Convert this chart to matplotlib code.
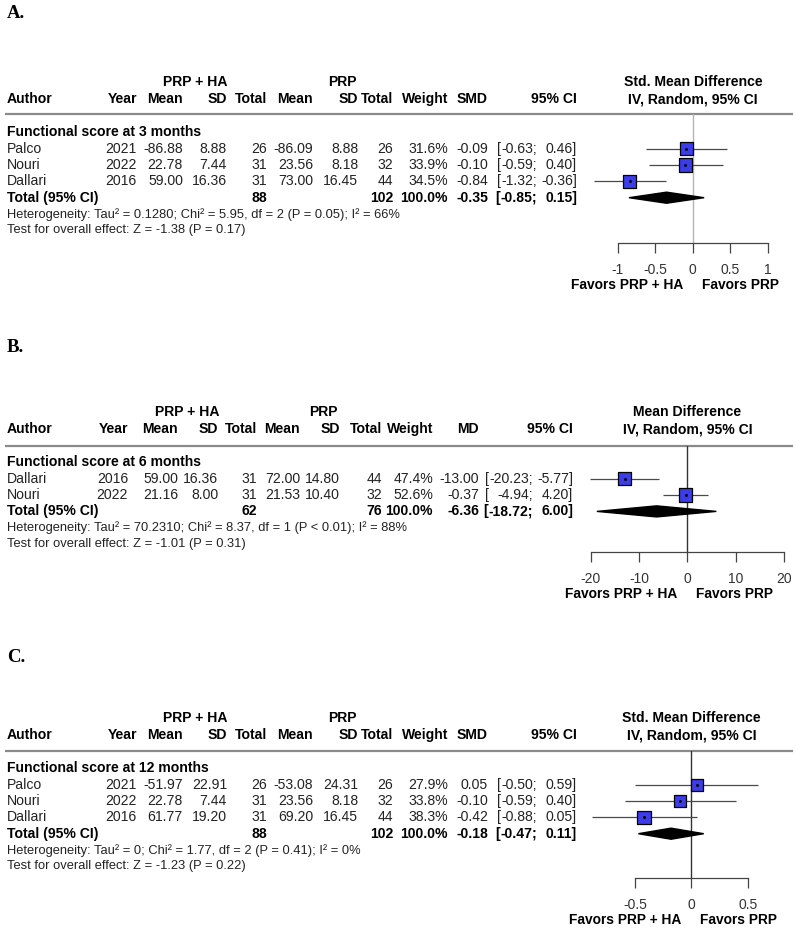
import numpy as np
import matplotlib
matplotlib.use('Agg')
import matplotlib.pyplot as plt
from matplotlib.transforms import blended_transform_factory

plt.rcParams['font.family'] = ['Liberation Sans', 'DejaVu Sans']
plt.rcParams['axes.unicode_minus'] = False

# ---- Panel A: functional score at 3 months (SMD) ----
authors_a = ['Palco', 'Nouri', 'Dallari']
years_a = [2021, 2022, 2016]
mean_e_a = [-86.88, 22.78, 59.00]
sd_e_a = [8.88, 7.44, 16.36]
n_e_a = [26, 31, 31]
mean_c_a = [-86.09, 23.56, 73.00]
sd_c_a = [8.88, 8.18, 16.45]
n_c_a = [26, 32, 44]
weight_a = [31.6, 33.9, 34.5]
eff_a = [-0.09, -0.10, -0.84]
lo_a = [-0.63, -0.59, -1.32]
hi_a = [0.46, 0.40, -0.36]
pooled_a = [-0.35, -0.85, 0.15]
totals_a = [88, 102]
het_a = 'Heterogeneity: Tau² = 0.1280; Chi² = 5.95, df = 2 (P = 0.05); I² = 66%'
test_a = 'Test for overall effect: Z = -1.38 (P = 0.17)'
ticks_a = [-1, -0.5, 0, 0.5, 1]
ticklabels_a = ['-1', '-0.5', '0', '0.5', '1']

# ---- Panel B: functional score at 6 months (MD) ----
authors_b = ['Dallari', 'Nouri']
years_b = [2016, 2022]
mean_e_b = [59.00, 21.16]
sd_e_b = [16.36, 8.00]
n_e_b = [31, 31]
mean_c_b = [72.00, 21.53]
sd_c_b = [14.80, 10.40]
n_c_b = [44, 32]
weight_b = [47.4, 52.6]
eff_b = [-13.00, -0.37]
lo_b = [-20.23, -4.94]
hi_b = [-5.77, 4.20]
pooled_b = [-6.36, -18.72, 6.00]
totals_b = [62, 76]
het_b = 'Heterogeneity: Tau² = 70.2310; Chi² = 8.37, df = 1 (P < 0.01); I² = 88%'
test_b = 'Test for overall effect: Z = -1.01 (P = 0.31)'
ticks_b = [-20, -10, 0, 10, 20]
ticklabels_b = ['-20', '-10', '0', '10', '20']

# ---- Panel C: functional score at 12 months (SMD) ----
authors_c = ['Palco', 'Nouri', 'Dallari']
years_c = [2021, 2022, 2016]
mean_e_c = [-51.97, 22.78, 61.77]
sd_e_c = [22.91, 7.44, 19.20]
n_e_c = [26, 31, 31]
mean_c_c = [-53.08, 23.56, 69.20]
sd_c_c = [24.31, 8.18, 16.45]
n_c_c = [26, 32, 44]
weight_c = [27.9, 33.8, 38.3]
eff_c = [0.05, -0.10, -0.42]
lo_c = [-0.50, -0.59, -0.88]
hi_c = [0.59, 0.40, 0.05]
pooled_c = [-0.18, -0.47, 0.11]
totals_c = [88, 102]
het_c = 'Heterogeneity: Tau² = 0; Chi² = 1.77, df = 2 (P = 0.41); I² = 0%'
test_c = 'Test for overall effect: Z = -1.23 (P = 0.22)'
ticks_c = [-0.5, 0, 0.5]
ticklabels_c = ['-0.5', '0', '0.5']

W, H = 796, 934
FS = 10.1
FS_SMALL = 9.3
STEP = 16.3
TXT = '#222222'
BOX = '#3c3ce8'

fig = plt.figure(figsize=(W / 100, H / 100), dpi=100)
bg = fig.add_axes([0, 0, 1, 1])
bg.set_xlim(0, W)
bg.set_ylim(H, 0)
bg.axis('off')

# column right edges (px); 'br' = left edge of the CI bracket
cols_ac = dict(year=137, me=183, se=227, ne=267, mc=313, sc=358, nc=393,
               w=448, eff=488, br=497, sep=537, ci=577, ge=195, gc=342)
cols_b = dict(year=128, me=178, se=218, ne=257, mc=300, sc=340, nc=382,
              w=433, eff=479, br=485, sep=533, ci=573, ge=187, gc=323)


def draw_panel(letter, letter_y, head_y, line_y, axis_y, tick_px, cols, eff_name,
               title, subgroup, authors, years, mean_e, sd_e, n_e, mean_c, sd_c, n_c,
               weight, eff, lo, hi, pooled, totals, het, test, ticks, ticklabels, ref_color):
    bg.text(7, letter_y, letter, family='Liberation Serif', fontweight='bold',
            fontsize=13.5, va='center', ha='left')

    # table header
    hy = head_y
    bg.text(cols['ge'], hy - 16.5, 'PRP + HA', fontweight='bold', fontsize=FS, ha='center', va='center')
    bg.text(cols['gc'], hy - 16.5, 'PRP', fontweight='bold', fontsize=FS, ha='center', va='center')
    bg.text(7, hy, 'Author', fontweight='bold', fontsize=FS, ha='left', va='center')
    for key, lab in [('year', 'Year'), ('me', 'Mean'), ('se', 'SD'), ('ne', 'Total'),
                     ('mc', 'Mean'), ('sc', 'SD'), ('nc', 'Total'), ('w', 'Weight'),
                     ('eff', eff_name), ('ci', '95% CI')]:
        bg.text(cols[key], hy, lab, fontweight='bold', fontsize=FS, ha='right', va='center')
    bg.plot([5, 793], [line_y, line_y], color='#8a8a8a', lw=1.6, solid_capstyle='butt')

    func_y = head_y + 33.5
    bg.text(7, func_y, subgroup, fontweight='bold', fontsize=FS, ha='left', va='center')

    for k in range(len(authors)):
        y = func_y + STEP * (k + 1)
        vals = [('year', str(years[k])), ('me', f'{mean_e[k]:.2f}'), ('se', f'{sd_e[k]:.2f}'),
                ('ne', str(n_e[k])), ('mc', f'{mean_c[k]:.2f}'), ('sc', f'{sd_c[k]:.2f}'),
                ('nc', str(n_c[k])), ('w', f'{weight[k]:.1f}%'), ('eff', f'{eff[k]:.2f}'),
                ('sep', f'{lo[k]:.2f};'), ('ci', f'{hi[k]:.2f}]')]
        bg.text(7, y, authors[k], fontsize=FS, ha='left', va='center', color=TXT)
        bg.text(cols['br'], y, '[', fontsize=FS, ha='left', va='center', color=TXT)
        for key, s in vals:
            bg.text(cols[key], y, s, fontsize=FS, ha='right', va='center', color=TXT)

    ty = func_y + STEP * (len(authors) + 1)
    bg.text(7, ty, 'Total (95% CI)', fontweight='bold', fontsize=FS, ha='left', va='center')
    bg.text(cols['br'] - 1.5, ty, '[', fontweight='bold', fontsize=FS, ha='left', va='center')
    for key, s in [('ne', str(totals[0])), ('nc', str(totals[1])), ('w', '100.0%'),
                   ('eff', f'{pooled[0]:.2f}'), ('sep', f'{pooled[1]:.2f};'),
                   ('ci', f'{pooled[2]:.2f}]')]:
        bg.text(cols[key], ty, s, fontweight='bold', fontsize=FS, ha='right', va='center')
    bg.text(7, ty + 16.5, het, fontsize=FS_SMALL, ha='left', va='center', color=TXT)
    bg.text(7, ty + 32.5, test, fontsize=FS_SMALL, ha='left', va='center', color=TXT)

    # forest plot
    x0, x1 = tick_px
    ax = fig.add_axes([x0 / W, 1 - axis_y / H, (x1 - x0) / W, (axis_y - line_y) / H])
    ax.patch.set_visible(False)
    ax.set_xlim(ticks[0], ticks[-1])
    ax.set_ylim((axis_y - func_y) / STEP, (line_y - func_y) / STEP)
    n = len(authors)
    rows = np.arange(1, n + 1)
    w = np.array(weight)
    ax.axvline(0, color=ref_color, lw=1.0, zorder=1)
    ax.hlines(rows, lo, hi, color='#4a4a4a', lw=0.9, clip_on=False, zorder=2)
    sizes = (13.5 * 0.72 * np.sqrt(w / w.max())) ** 2
    ax.scatter(eff, rows, s=sizes, marker='s', color=BOX, edgecolors='black',
               linewidths=0.9, zorder=3, clip_on=False)
    ax.scatter(eff, rows, s=1.2, color='black', zorder=4, clip_on=False)
    yt = n + 1
    ax.fill([pooled[1], pooled[0], pooled[2], pooled[0]],
            [yt, yt - 0.34, yt, yt + 0.34], color='black', zorder=3, clip_on=False)

    for sp in ['top', 'left', 'right']:
        ax.spines[sp].set_visible(False)
    ax.spines['bottom'].set_color('#444444')
    ax.spines['bottom'].set_linewidth(0.9)
    ax.set_yticks([])
    ax.set_xticks(ticks)
    ax.set_xticklabels(ticklabels)
    ax.tick_params(axis='x', direction='out', length=7, width=0.9, color='#444444',
                   pad=7.5, labelsize=10, labelcolor='#333333')

    tr = blended_transform_factory(ax.transData, bg.transData)
    bg.text(0, head_y - 16.5, title, transform=tr, fontweight='bold', fontsize=FS,
            ha='center', va='center')
    bg.text(0, head_y, 'IV, Random, 95% CI', transform=tr, fontweight='bold', fontsize=FS,
            ha='center', va='center')
    ax.annotate('Favors PRP + HA', xy=(0, axis_y + 42), xycoords=tr, xytext=(-7, 0),
                textcoords='offset points', ha='right', va='center', fontweight='bold', fontsize=9.9)
    ax.annotate('Favors PRP', xy=(0, axis_y + 42), xycoords=tr, xytext=(6.5, 0),
                textcoords='offset points', ha='left', va='center', fontweight='bold', fontsize=9.9)


draw_panel('A.', 13, 99, 114, 243, (617.7, 768.0), cols_ac, 'SMD', 'Std. Mean Difference',
           'Functional score at 3 months', authors_a, years_a, mean_e_a, sd_e_a, n_e_a,
           mean_c_a, sd_c_a, n_c_a, weight_a, eff_a, lo_a, hi_a, pooled_a, totals_a,
           het_a, test_a, ticks_a, ticklabels_a, '#b4b4b4')

draw_panel('B.', 348, 429, 446, 552, (590.7, 784.0), cols_b, 'MD', 'Mean Difference',
           'Functional score at 6 months', authors_b, years_b, mean_e_b, sd_e_b, n_e_b,
           mean_c_b, sd_c_b, n_c_b, weight_b, eff_b, lo_b, hi_b, pooled_b, totals_b,
           het_b, test_b, ticks_b, ticklabels_b, '#333333')

draw_panel('C.', 657, 735, 751, 878, (635.0, 747.7), cols_ac, 'SMD', 'Std. Mean Difference',
           'Functional score at 12 months', authors_c, years_c, mean_e_c, sd_e_c, n_e_c,
           mean_c_c, sd_c_c, n_c_c, weight_c, eff_c, lo_c, hi_c, pooled_c, totals_c,
           het_c, test_c, ticks_c, ticklabels_c, '#333333')

fig.savefig('out.png', dpi=100)
